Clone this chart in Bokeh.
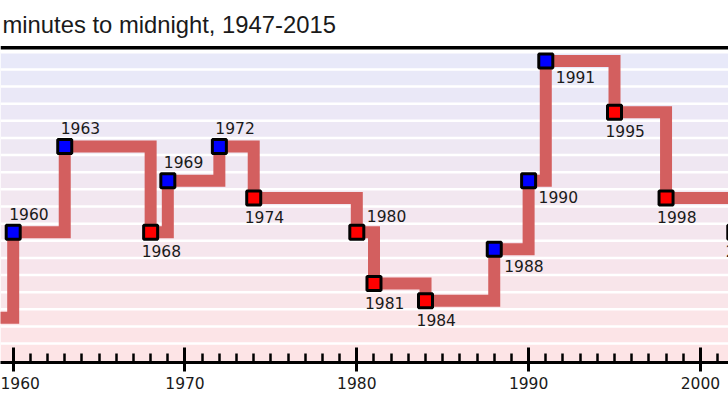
import numpy as np
from bokeh.plotting import figure
from bokeh.models import Range1d, BoxAnnotation, Span, ColumnDataSource, SingleIntervalTicker
from bokeh.core.properties import value
from bokeh.embed import file_html
from bokeh.resources import INLINE

# ---- data ----
years = [1947, 1949, 1953, 1960, 1963, 1968, 1969, 1972, 1974, 1980, 1981,
         1984, 1988, 1990, 1991, 1995, 1998, 2002, 2007, 2010, 2012, 2015]
minutes = [7, 3, 2, 7, 12, 7, 10, 12, 9, 7, 4, 3, 6, 10, 17, 14, 9, 7, 5, 6, 5, 3]
labels = [str(y) for y in years]
placement = ["above", "below", "below", "above", "above", "below", "above", "above",
             "below", "above_right", "below", "below", "below_right", "below_right",
             "below_right", "below", "below", "below", "below", "above", "below", "below"]
title_text = "minutes to midnight, 1947-2015"

# ---- styling ----
offsets = {"above": (-4, -18.5), "below": (-9, 19),
           "above_right": (10, -16), "below_right": (10, 16.5)}
colors = []
for i, m in enumerate(minutes):
    prev = minutes[i - 1] if i > 0 else 0
    colors.append("#0000ff" if m > prev else "#ff0000")

src = ColumnDataSource(dict(
    year=years, minutes=minutes, label=labels, color=colors,
    xo=[offsets[p][0] for p in placement], yo=[offsets[p][1] for p in placement],
))

p = figure(width=728, height=398, output_backend="svg", toolbar_location=None,
           x_range=Range1d(1959.261, 2001.635), y_range=Range1d(-0.608, 17.90),
           y_axis_location=None, min_border_left=0, min_border_right=0,
           min_border_top=45, min_border_bottom=36)
p.outline_line_color = None
p.grid.visible = False
p.background_fill_color = "white"
p.border_fill_color = "white"

# background bands
top_c = np.array([232, 233, 249])
bot_c = np.array([253, 228, 230])
for v in range(0, 18):
    t = v / 17.0
    c = (bot_c * (1 - t) + top_c * t).round().astype(int)
    p.add_layout(BoxAnnotation(bottom=(v - 0.5) if v > 0 else None, top=v + 0.5,
                               fill_color="#%02x%02x%02x" % tuple(c), fill_alpha=1,
                               line_color=None, level="underlay"))
for v in range(0, 18):
    p.add_layout(Span(location=v + 0.5, dimension="width", line_color="white",
                      line_width=2.5, level="underlay"))
p.add_layout(Span(location=17.77, dimension="width", line_color="black",
                  line_width=3.5, level="underlay"))

p.step(x="year", y="minutes", source=src, mode="after", line_width=12,
       line_color="#d35f5f", line_join="miter")
p.scatter(x="year", y="minutes", source=src, marker="square", size=14,
          line_width=3, line_color="black", fill_color="color")
p.text(x="year", y="minutes", text="label", source=src, x_offset="xo", y_offset="yo",
       text_font=value("DejaVu Sans"), text_font_size="15.5px",
       text_color="#1a1a1a", text_baseline="alphabetic", text_align="left")

ax = p.xaxis[0]
ax.ticker = SingleIntervalTicker(interval=10, num_minor_ticks=10)
ax.axis_line_width = 3
ax.axis_line_color = "black"
ax.major_tick_line_width = 3
ax.minor_tick_line_width = 2.5
ax.major_tick_in = 15
ax.major_tick_out = 9
ax.minor_tick_in = 9
ax.minor_tick_out = 0
ax.major_label_text_font = "DejaVu Sans"
ax.major_label_text_font_size = "15.5px"
ax.major_label_text_color = "#1a1a1a"
ax.major_label_standoff = 5

p.title.text = title_text
p.title.text_font = "Liberation Sans"
p.title.text_font_size = "23.8px"
p.title.text_font_style = "normal"
p.title.text_color = "#1a1a1a"
p.title.align = "left"
p.title.offset = 2
p.title.standoff = 14.5

open("out.html", "w").write(file_html(p, INLINE))
